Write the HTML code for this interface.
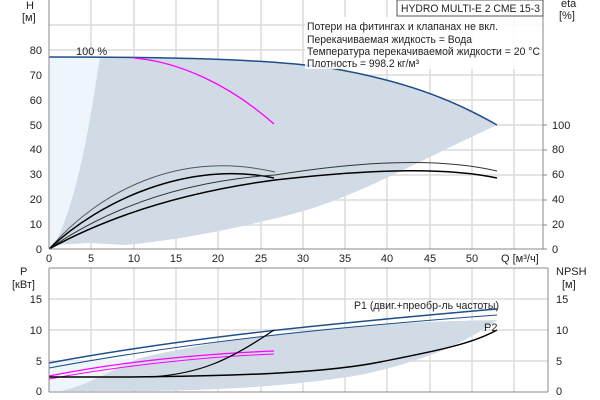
<!DOCTYPE html>
<html><head><meta charset="utf-8"><style>
html,body{margin:0;padding:0;background:#fff}
svg{display:block}
text{font-family:"Liberation Sans",sans-serif;font-size:11px;fill:#222}
</style></head><body>
<svg width="600" height="400" viewBox="0 0 600 400">
<g stroke="#dcdcdc" stroke-width="1.5">
<line x1="49" y1="25" x2="543" y2="25"/><line x1="49" y1="50" x2="543" y2="50"/><line x1="49" y1="75" x2="543" y2="75"/><line x1="49" y1="100" x2="543" y2="100"/><line x1="49" y1="125" x2="543" y2="125"/><line x1="49" y1="150" x2="543" y2="150"/><line x1="49" y1="175" x2="543" y2="175"/><line x1="49" y1="200" x2="543" y2="200"/><line x1="49" y1="225" x2="543" y2="225"/>
<line x1="91" y1="0" x2="91" y2="249"/><line x1="134" y1="0" x2="134" y2="249"/><line x1="176" y1="0" x2="176" y2="249"/><line x1="218" y1="0" x2="218" y2="249"/><line x1="261" y1="0" x2="261" y2="249"/><line x1="303" y1="0" x2="303" y2="249"/><line x1="345" y1="0" x2="345" y2="249"/><line x1="387" y1="0" x2="387" y2="249"/><line x1="430" y1="0" x2="430" y2="249"/><line x1="472" y1="0" x2="472" y2="249"/><line x1="514" y1="0" x2="514" y2="249"/>
</g>
<path d="M49,57 L100,57 C90,120 80,190 55,245 L49,249 Z" fill="#eef5fc"/>
<path d="M100,57 L134,57 C200,58 260,60 310,65 C380,75 440,95 497,125 C420,160 360,195 300,212 C240,228 180,240 125,245 L90,243 L55,245 C80,190 90,120 100,57 Z" fill="#d0dbe6"/>
<path d="M49,57 C150,57 260,58 330,68 C400,80 450,98 497,125" fill="none" stroke="#1f4e8a" stroke-width="1.5"/>
<path d="M134,58 C180,62 230,85 274,124" fill="none" stroke="#ff00ff" stroke-width="1.3"/>
<path d="M49,249 C100,190 180,150 275,172" fill="none" stroke="#555" stroke-width="1"/>
<path d="M49,249 C100,200 190,160 274,178" fill="none" stroke="#000" stroke-width="1.5"/>
<path d="M49,249 C120,200 200,180 275,175 C380,158 450,160 497,171" fill="none" stroke="#333" stroke-width="1"/>
<path d="M49,249 C120,210 200,190 275,180 C380,168 450,168 497,178" fill="none" stroke="#000" stroke-width="1.5"/>
<g stroke="#888" fill="none"><line x1="49" y1="0" x2="49" y2="249"/><line x1="49" y1="249" x2="543" y2="249"/><line x1="543" y1="0" x2="543" y2="249"/>
<line x1="543" y1="125" x2="547" y2="125"/><line x1="543" y1="150" x2="547" y2="150"/><line x1="543" y1="175" x2="547" y2="175"/><line x1="543" y1="200" x2="547" y2="200"/><line x1="543" y1="225" x2="547" y2="225"/><line x1="543" y1="249" x2="547" y2="249"/></g>
<g text-anchor="end"><text x="42" y="253">0</text><text x="42" y="228">10</text><text x="42" y="203">20</text><text x="42" y="178">30</text><text x="42" y="153">40</text><text x="42" y="129">50</text><text x="42" y="104">60</text><text x="42" y="79">70</text><text x="42" y="54">80</text></g>
<text x="26" y="9">H</text><text x="22" y="21">[м]</text>
<g text-anchor="middle"><text x="49" y="262">0</text><text x="91" y="262">5</text><text x="134" y="262">10</text><text x="176" y="262">15</text><text x="218" y="262">20</text><text x="261" y="262">25</text><text x="303" y="262">30</text><text x="345" y="262">35</text><text x="387" y="262">40</text><text x="430" y="262">45</text><text x="472" y="262">50</text></g>
<text x="501" y="262">Q [м³/ч]</text>
<g><text x="552" y="253">0</text><text x="552" y="228">20</text><text x="552" y="203">40</text><text x="552" y="178">60</text><text x="552" y="153">80</text><text x="552" y="129">100</text></g>
<text x="561" y="7">eta</text><text x="559" y="19">[%]</text>
<text x="76" y="55">100 %</text>
<rect x="397" y="0" width="146" height="16" fill="#fff" stroke="#555"/>
<text x="401" y="12" textLength="139" lengthAdjust="spacingAndGlyphs">HYDRO MULTI-E 2 CME 15-3</text>
<rect x="305" y="17" width="237" height="52" fill="#fff" opacity="0.85"/>
<text x="307" y="30" textLength="191" lengthAdjust="spacingAndGlyphs">Потери на фитингах и клапанах не вкл.</text>
<text x="307" y="43" textLength="165" lengthAdjust="spacingAndGlyphs">Перекачиваемая жидкость = Вода</text>
<text x="307" y="55" textLength="233" lengthAdjust="spacingAndGlyphs">Температура перекачиваемой жидкости = 20 °C</text>
<text x="307" y="67" textLength="112" lengthAdjust="spacingAndGlyphs">Плотность = 998.2 кг/м³</text>
<g stroke="#dcdcdc" stroke-width="1.5">
<line x1="49" y1="299" x2="548" y2="299"/><line x1="49" y1="330" x2="548" y2="330"/><line x1="49" y1="361" x2="548" y2="361"/>
<line x1="91" y1="268" x2="91" y2="392"/><line x1="134" y1="268" x2="134" y2="392"/><line x1="176" y1="268" x2="176" y2="392"/><line x1="218" y1="268" x2="218" y2="392"/><line x1="261" y1="268" x2="261" y2="392"/><line x1="303" y1="268" x2="303" y2="392"/><line x1="345" y1="268" x2="345" y2="392"/><line x1="387" y1="268" x2="387" y2="392"/><line x1="430" y1="268" x2="430" y2="392"/><line x1="472" y1="268" x2="472" y2="392"/><line x1="514" y1="268" x2="514" y2="392"/>
</g>
<path d="M49,362 L140,358 C110,370 90,385 60,391 L49,391 Z" fill="#eef5fc"/>
<path d="M140,358 C260,330 380,322 497,320 C470,340 430,360 360,375 C300,385 230,390 150,391 L60,391 C90,385 110,370 140,358 Z" fill="#d0dbe6"/>
<path d="M49,363 C200,335 350,322 497,309" fill="none" stroke="#1f4e8a" stroke-width="1.5"/>
<path d="M49,368 C200,340 350,326 497,315" fill="none" stroke="#1f4e8a" stroke-width="1"/>
<path d="M49,376 C120,362 200,354 274,351" fill="none" stroke="#ff00ff" stroke-width="1.3"/>
<path d="M49,379 C120,366 200,357 274,354" fill="none" stroke="#ff00ff" stroke-width="1"/>
<path d="M150,377 C200,374 230,360 274,330" fill="none" stroke="#000" stroke-width="1.2"/>
<path d="M49,377 L130,377 C250,376 330,372 380,362 C430,352 470,345 497,330" fill="none" stroke="#000" stroke-width="1.5"/>
<g stroke="#888" fill="none"><line x1="49" y1="268" x2="548" y2="268"/><line x1="49" y1="268" x2="49" y2="392"/><line x1="49" y1="392" x2="548" y2="392"/><line x1="548" y1="268" x2="548" y2="392"/></g>
<g text-anchor="end"><text x="42" y="395">0</text><text x="42" y="365">5</text><text x="42" y="334">10</text><text x="42" y="303">15</text></g>
<text x="20" y="275">P</text><text x="12" y="288">[кВт]</text>
<g><text x="556" y="395">0</text><text x="556" y="365">5</text><text x="556" y="334">10</text><text x="556" y="303">15</text></g>
<text x="556" y="275">NPSH</text><text x="562" y="288">[м]</text>
<text x="354" y="309" textLength="145" lengthAdjust="spacingAndGlyphs">P1 (двиг.+преобр-ль частоты)</text>
<text x="484" y="331">P2</text>
</svg>
</body></html>
